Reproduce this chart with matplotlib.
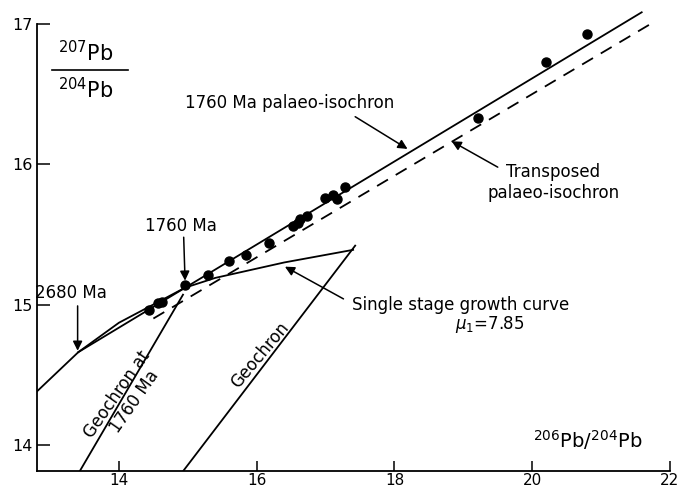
import numpy as np
import matplotlib
matplotlib.use("Agg")
from matplotlib import pyplot as plt

plt.rcParams['font.family'] = ['DejaVu Sans']

# measured galena lead compositions
pb206 = [14.44, 14.56, 14.62, 14.96, 15.30, 15.60, 15.84, 16.18, 16.53, 16.60, 16.63, 16.73,
         16.99, 17.11, 17.16, 17.28, 19.21, 20.20, 20.79]
pb207 = [14.96, 15.01, 15.02, 15.14, 15.21, 15.31, 15.35, 15.44, 15.56, 15.58, 15.61, 15.63,
         15.76, 15.78, 15.75, 15.84, 16.33, 16.73, 16.93]

# single stage growth curve (mu1 = 7.85)
growth_x = [12.81, 13.41, 14.0, 14.5, 14.96, 15.4, 16.4, 17.4]
growth_y = [14.38, 14.66, 14.87, 15.0, 15.12, 15.19, 15.30, 15.39]

# 1760 Ma palaeo-isochron and transposed palaeo-isochron
iso_x = [13.41, 21.59]
iso_y = [14.66, 17.085]
trans_x = [14.5, 21.73]
trans_y = [14.90, 17.005]

# geochrons
geo_x = [14.93, 17.43]
geo_y = [13.81, 15.42]
geo1760_x = [13.43, 14.93]
geo1760_y = [13.81, 15.07]

fig = plt.figure(figsize=(6.85, 4.94), dpi=100)
ax = fig.add_axes([0.054, 0.046, 0.924, 0.905])
ax.set_xlim(12.81, 22)
ax.set_ylim(13.81, 17)

lw = 1.3
ax.plot(growth_x, growth_y, color='black', lw=lw)
ax.plot(iso_x, iso_y, color='black', lw=lw, clip_on=False)
ax.plot(trans_x, trans_y, color='black', lw=lw, dashes=(7, 5), clip_on=False)
ax.plot(geo_x, geo_y, color='black', lw=lw)
ax.plot(geo1760_x, geo1760_y, color='black', lw=lw)
ax.plot(pb206, pb207, 'o', color='black', ms=6.5, zorder=5)

fs = 12
arrow = dict(arrowstyle='-|>', color='black', lw=1.1, mutation_scale=14, shrinkA=0, shrinkB=0)

ax.text(16.48, 16.44, '1760 Ma palaeo-isochron', ha='center', va='center', fontsize=fs)
ax.annotate('', xy=(18.19, 16.11), xytext=(17.43, 16.34), arrowprops=arrow)

ax.text(20.31, 15.87, 'Transposed\npalaeo-isochron', ha='center', va='center', fontsize=fs,
        linespacing=1.2)
ax.annotate('', xy=(18.83, 16.165), xytext=(19.50, 15.98), arrowprops=arrow)

ax.text(14.9, 15.56, '1760 Ma', ha='center', va='center', fontsize=fs)
ax.annotate('', xy=(14.96, 15.17), xytext=(14.94, 15.48), arrowprops=arrow)

ax.text(13.31, 15.08, '2680 Ma', ha='center', va='center', fontsize=fs)
ax.annotate('', xy=(13.40, 14.67), xytext=(13.40, 14.99), arrowprops=arrow)

ax.text(17.38, 15.0, 'Single stage growth curve', ha='left', va='center', fontsize=fs)
ax.text(18.88, 14.855, r'$\mu_1$=7.85', ha='left', va='center', fontsize=fs)
ax.annotate('', xy=(16.41, 15.27), xytext=(17.26, 15.04), arrowprops=arrow)

ax.text(13.97, 14.36, 'Geochron at', ha='center', va='center', fontsize=fs,
        rotation=55, rotation_mode='anchor')
ax.text(14.23, 14.31, '1760 Ma', ha='center', va='center', fontsize=fs,
        rotation=55, rotation_mode='anchor')
ax.text(16.05, 14.64, 'Geochron', ha='center', va='center', fontsize=fs,
        rotation=50, rotation_mode='anchor')

# axis titles written inside the plot, as in the original
ax.text(20.81, 14.03, r'$^{206}$Pb/$^{204}$Pb', ha='center', va='center', fontsize=14)
ax.text(13.52, 16.80, r'$^{207}$Pb', ha='center', va='center', fontsize=15)
ax.text(13.52, 16.53, r'$^{204}$Pb', ha='center', va='center', fontsize=15)
ax.plot([13.03, 14.13], [16.67, 16.67], color='black', lw=1.2)

ax.spines['top'].set_visible(False)
ax.spines['right'].set_visible(False)
for s in ['left', 'bottom']:
    ax.spines[s].set_linewidth(1.3)

ax.set_xticks([14, 16, 18, 20, 22])
ax.set_yticks([14, 15, 16, 17])
ax.tick_params(axis='x', direction='in', length=7, width=1.1, labelsize=11, pad=1)
ax.tick_params(axis='y', direction='in', length=9, width=1.1, labelsize=11.5, pad=3)

fig.savefig('out.png', dpi=100)
